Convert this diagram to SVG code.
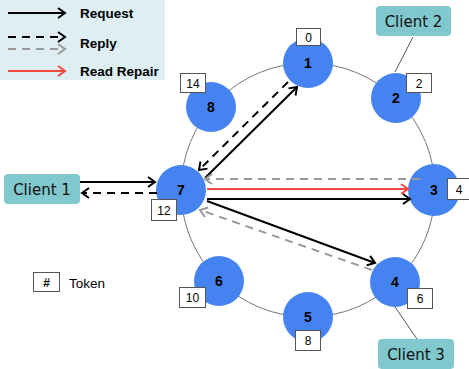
<svg xmlns="http://www.w3.org/2000/svg" width="469" height="369" viewBox="0 0 469 369">
  <defs>
    <marker id="ah-black" markerUnits="userSpaceOnUse" markerWidth="14" markerHeight="14" refX="9" refY="6" orient="auto">
      <path d="M2,1 L9,6 L2,11" fill="none" stroke="#000" stroke-width="2"/>
    </marker>
    <marker id="ah-gray" markerUnits="userSpaceOnUse" markerWidth="14" markerHeight="14" refX="9" refY="6" orient="auto">
      <path d="M2,1 L9,6 L2,11" fill="none" stroke="#999" stroke-width="2"/>
    </marker>
    <marker id="ah-red" markerUnits="userSpaceOnUse" markerWidth="14" markerHeight="14" refX="9" refY="6" orient="auto">
      <path d="M2,1 L9,6 L2,11" fill="none" stroke="#f04a3e" stroke-width="2"/>
    </marker>
  </defs>
  <style>
    .ring { fill: none; stroke: #666; stroke-width: 0.9; }
    .node { fill: #4584f0; }
    .nlabel { font-family: "Liberation Sans", Arial, sans-serif; font-weight: bold; font-size: 14px; fill: #000; text-anchor: middle; }
    .tok { fill: #fff; stroke: #555; stroke-width: 1; }
    .toktext { font-family: "Liberation Sans", Arial, sans-serif; font-size: 12px; fill: #000; text-anchor: middle; }
    .client { fill: #80c8cd; }
    .ctext { font-family: "DejaVu Sans", Verdana, sans-serif; font-size: 15px; fill: #111; text-anchor: middle; }
    .link { stroke: #555; stroke-width: 1; }
    .req { stroke: #000; stroke-width: 2; fill: none; marker-end: url(#ah-black); }
    .rep { stroke: #000; stroke-width: 2; fill: none; stroke-dasharray: 8 6; marker-end: url(#ah-black); }
    .repg { stroke: #999; stroke-width: 2; fill: none; stroke-dasharray: 8 6; marker-end: url(#ah-gray); }
    .rr { stroke: #f04a3e; stroke-width: 2; fill: none; marker-end: url(#ah-red); }
    .legtext { font-family: "Liberation Sans", Arial, sans-serif; font-weight: bold; font-size: 13.5px; fill: #000; }
  </style>

  <!-- legend panel -->
  <g id="legend">
    <rect x="0" y="0" width="165" height="80" fill="#deeef2"/>
    <line class="req" x1="8" y1="13" x2="65" y2="13"/>
    <text class="legtext" x="80" y="18">Request</text>
    <line class="rep" x1="8" y1="37" x2="65" y2="37"/>
    <line class="repg" x1="8" y1="49" x2="65" y2="49"/>
    <text class="legtext" x="80" y="48">Reply</text>
    <line class="rr" x1="8" y1="71" x2="65" y2="71"/>
    <text class="legtext" x="80" y="76">Read Repair</text>
  </g>

  <!-- token key -->
  <g id="token-key">
    <rect class="tok" x="33.5" y="272.5" width="26" height="19"/>
    <text class="toktext" x="46.5" y="287" font-weight="bold">#</text>
    <text x="69" y="288" font-family="'Liberation Sans', Arial, sans-serif" font-size="13.5px" fill="#000">Token</text>
  </g>

  <!-- ring -->
  <circle class="ring" cx="308" cy="190" r="127"/>

  <!-- client links -->
  <g id="client-links">
    <line class="link" x1="413" y1="37" x2="395" y2="72"/>
    <line class="link" x1="395" y1="307" x2="417" y2="339"/>
  </g>

  <!-- clients -->
  <g id="client1">
    <rect class="client" x="4" y="174" width="76" height="30" rx="4"/>
    <text class="ctext" x="42" y="195">Client 1</text>
  </g>
  <g id="client2">
    <rect class="client" x="376" y="6" width="75" height="30" rx="4"/>
    <text class="ctext" x="413.5" y="27">Client 2</text>
  </g>
  <g id="client3">
    <rect class="client" x="378" y="339" width="76" height="30" rx="4"/>
    <text class="ctext" x="416" y="360">Client 3</text>
  </g>

  <!-- ring nodes -->
  <g id="node1">
    <circle class="node" cx="308" cy="63" r="25"/>
    <text class="nlabel" x="308" y="68">1</text>
    <rect class="tok" x="296.5" y="28.5" width="24" height="17"/>
    <text class="toktext" x="308.5" y="42">0</text>
  </g>
  <g id="node2">
    <circle class="node" cx="396" cy="98" r="25"/>
    <text class="nlabel" x="396" y="103">2</text>
    <rect class="tok" x="406.5" y="73.5" width="25" height="19"/>
    <text class="toktext" x="419" y="88">2</text>
  </g>
  <g id="node3">
    <circle class="node" cx="434" cy="190" r="26"/>
    <text class="nlabel" x="434" y="195">3</text>
    <rect class="tok" x="447.5" y="178.5" width="24" height="21"/>
    <text class="toktext" x="459" y="194">4</text>
  </g>
  <g id="node4">
    <circle class="node" cx="395" cy="282" r="25"/>
    <text class="nlabel" x="395" y="287">4</text>
    <rect class="tok" x="407.5" y="288.5" width="25" height="20"/>
    <text class="toktext" x="420" y="303">6</text>
  </g>
  <g id="node5">
    <circle class="node" cx="308" cy="317" r="25"/>
    <text class="nlabel" x="308" y="322">5</text>
    <rect class="tok" x="295.5" y="330.5" width="25" height="20"/>
    <text class="toktext" x="308" y="345">8</text>
  </g>
  <g id="node6">
    <circle class="node" cx="219" cy="281" r="25"/>
    <text class="nlabel" x="219" y="286">6</text>
    <rect class="tok" x="179.5" y="287.5" width="26" height="20"/>
    <text class="toktext" x="192.5" y="302">10</text>
  </g>
  <g id="node7">
    <circle class="node" cx="181" cy="190" r="25"/>
    <text class="nlabel" x="181" y="195">7</text>
    <rect class="tok" x="151.5" y="199.5" width="25" height="21"/>
    <text class="toktext" x="164" y="215">12</text>
  </g>
  <g id="node8">
    <circle class="node" cx="211" cy="107" r="25"/>
    <text class="nlabel" x="211" y="112">8</text>
    <rect class="tok" x="180.5" y="73.5" width="25" height="19"/>
    <text class="toktext" x="193" y="88">14</text>
  </g>

  <!-- message flows -->
  <g id="connectors">
    <line class="req" x1="80" y1="182" x2="155" y2="182"/>
    <line class="rep" x1="157" y1="193" x2="82" y2="193"/>
    <line class="req" x1="205" y1="178" x2="297" y2="87"/>
    <line class="rep" x1="288" y1="82" x2="199" y2="170"/>
    <line class="repg" x1="420" y1="179" x2="205" y2="179"/>
    <line class="rr" x1="207" y1="189" x2="408" y2="189"/>
    <line class="req" x1="207" y1="199" x2="410" y2="199"/>
    <line class="req" x1="207" y1="201" x2="375" y2="263"/>
    <line class="repg" x1="372" y1="270" x2="200" y2="210"/>
  </g>
</svg>
